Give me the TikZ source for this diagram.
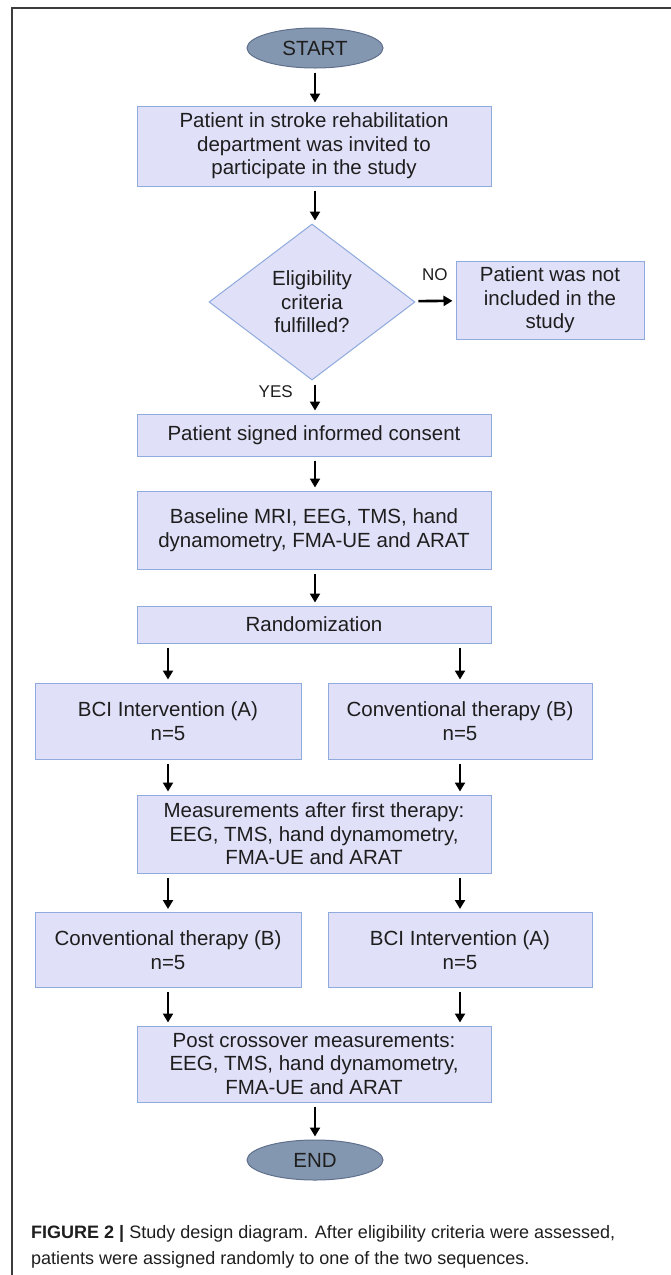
\documentclass[tikz,border=0pt]{standalone}
\usepackage{fontspec}
\setmainfont{Liberation Sans}
\usetikzlibrary{arrows.meta}
\usetikzlibrary{positioning}
\usetikzlibrary{shapes.geometric}
\definecolor{boxfill}{RGB}{224, 224, 248}
\definecolor{boxline}{RGB}{143, 170, 220}
\definecolor{ovalfill}{RGB}{132, 151, 176}
\definecolor{ovalline}{RGB}{96, 112, 140}
\definecolor{txt}{RGB}{30, 30, 30}
\definecolor{frame}{RGB}{60, 60, 60}
\tikzset{box/.style = {draw = boxline, fill = boxfill, line width = 1, align = center, inner sep = 0, text = txt, font = \fontsize{20.5}{23.5}\selectfont}}
\tikzset{oval/.style = {draw = ovalline, fill = ovalfill, ellipse, line width = 1, inner sep = 0, minimum width = 136, minimum height = 40, text = txt, font = \fontsize{20.5}{23.5}\selectfont}}
\tikzset{arr/.style = {line width = 2.6, -{Triangle[length = 9, width = 10]}, shorten < = 4, shorten > = 3}}
\tikzset{lbl/.style = {text = txt, font = \fontsize{17}{20}\selectfont, inner sep = 0}}

\begin{document}
\begin{tikzpicture}[x = 1pt, y = -1pt]
      \useasboundingbox (0, 0) rectangle (671, 1275);
      \draw [frame, line width = 1.5] (12, 1275) -- (12, 8) -- (671, 8);

      \node [oval] (start) at (315, 48) {START};
      \node [box, minimum width = 354, minimum height = 80] (invite) at (314, 146) {Patient in stroke rehabilitation\\department was invited to\\participate in the study};
      \node [box, diamond, aspect = 1.32, minimum width = 206, minimum height = 156] (elig) at (312, 302) {Eligibility\\criteria\\fulfilled?};
      \node [box, minimum width = 188, minimum height = 78] (notincl) at (550, 300) {Patient was not\\included in the\\study};
      \node [box, minimum width = 354, minimum height = 42] (consent) at (314, 435) {Patient signed informed consent};
      \node [box, minimum width = 354, minimum height = 78] (baseline) at (314, 530) {Baseline MRI, EEG, TMS, hand\\dynamometry, FMA-UE and ARAT};
      \node [box, minimum width = 354, minimum height = 37] (rand) at (314, 624.5) {Randomization};
      \node [box, minimum width = 266, minimum height = 76] (bciA) at (168, 721) {BCI Intervention (A)\\n=5};
      \node [box, minimum width = 264, minimum height = 76] (convB) at (460, 721) {Conventional therapy (B)\\n=5};
      \node [box, minimum width = 354, minimum height = 78] (meas) at (314, 834) {Measurements after first therapy:\\EEG, TMS, hand dynamometry,\\FMA-UE and ARAT};
      \node [box, minimum width = 266, minimum height = 75] (convBtwo) at (168, 950) {Conventional therapy (B)\\n=5};
      \node [box, minimum width = 264, minimum height = 75] (bciAtwo) at (460, 950) {BCI Intervention (A)\\n=5};
      \node [box, minimum width = 354, minimum height = 76] (post) at (314, 1064) {Post crossover measurements:\\EEG, TMS, hand dynamometry,\\FMA-UE and ARAT};
      \node [oval] (end) at (315, 1160) {END};

      \draw [arr] (start) -- (start |- invite.north);
      \draw [arr] (invite.south -| start) -- (start |- elig.north);
      \draw [arr] (elig) -- (notincl) node [lbl, midway, anchor = south, yshift = 19pt] (no) {NO};
      \draw [arr] (elig.south -| start) -- (start |- consent.north) node [lbl, pos = 0.35, left = 21] (yes) {YES};
      \draw [arr] (consent.south -| start) -- (start |- baseline.north);
      \draw [arr] (baseline.south -| start) -- (start |- rand.north);
      \foreach \a/\b in {rand/bciA, rand/convB, meas/convBtwo, meas/bciAtwo} {
        \draw [arr] (\a.south -| \b.north) -- (\b.north);
      }
      \foreach \a/\b in {bciA/meas, convB/meas, convBtwo/post, bciAtwo/post} {
        \draw [arr] (\a.south) -- (\a.south |- \b.north);
      }
      \draw [arr] (post.south -| start) -- (end);

      \node [anchor = north west, align = left, inner sep = 0, text = txt, font = \fontsize{18}{26}\selectfont] (caption) at (31, 1225) {\textbf{FIGURE 2 |} Study design diagram. After eligibility criteria were assessed,\\patients were assigned randomly to one of the two sequences.};
    \end{tikzpicture}
\end{document}
